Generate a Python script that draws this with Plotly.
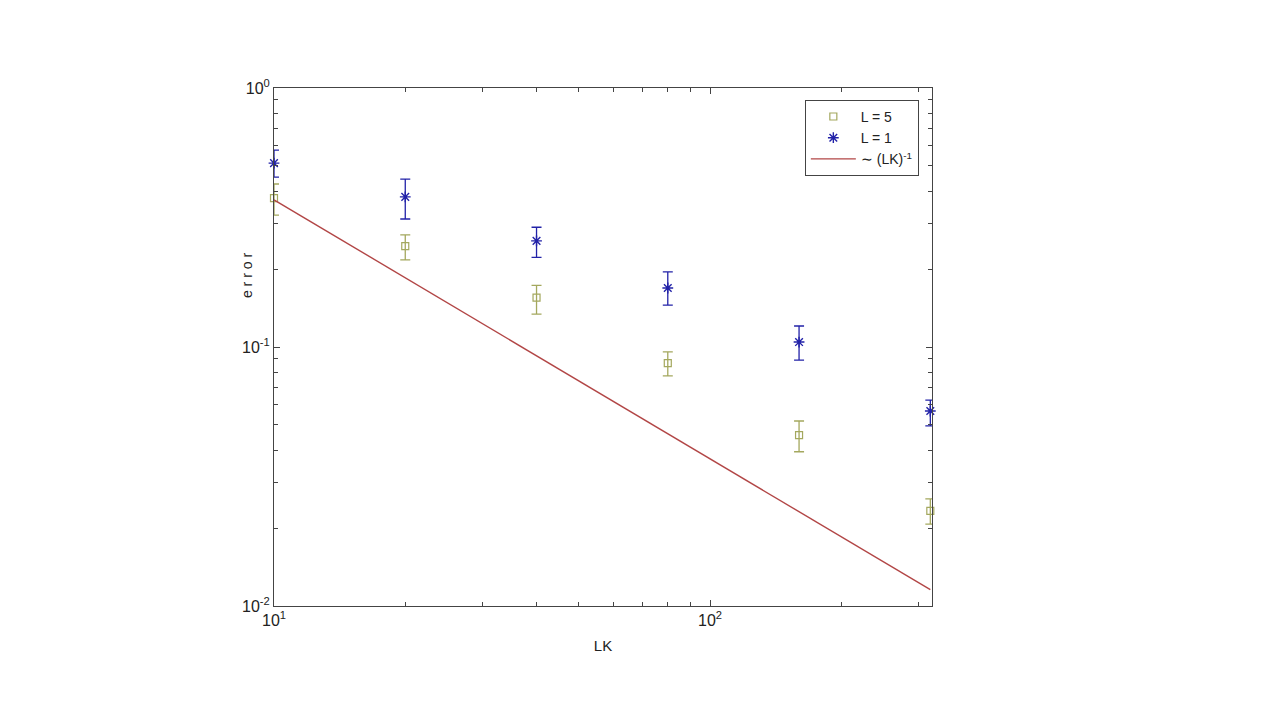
import plotly.graph_objects as go

LK = [10, 20, 40, 80, 160, 320]

err_L5 = [0.376, 0.245, 0.155, 0.0867, 0.0457, 0.0233]
err_L5_hi = [0.426, 0.271, 0.173, 0.0957, 0.0518, 0.0259]
err_L5_lo = [0.323, 0.217, 0.134, 0.0773, 0.0394, 0.0207]

err_L1 = [0.513, 0.38, 0.257, 0.169, 0.1045, 0.0566]
err_L1_hi = [0.576, 0.445, 0.29, 0.195, 0.1205, 0.0624]
err_L1_lo = [0.453, 0.312, 0.222, 0.145, 0.089, 0.0496]

ref_coef = 3.7
ref_x = [10, 320]
ref_y = [ref_coef / x for x in ref_x]

x_minor = [20, 30, 40, 50, 60, 70, 80, 90, 200, 300]
y_minor = [0.02, 0.03, 0.04, 0.05, 0.06, 0.07, 0.08, 0.09,
           0.2, 0.3, 0.4, 0.5, 0.6, 0.7, 0.8, 0.9]

green = "#a4a85e"
blue = "#2222a8"
red = "#b24646"

fig = go.Figure()
fig.add_trace(go.Scatter(
    x=LK, y=err_L5, mode="markers", name="L = 5", cliponaxis=False,
    marker=dict(symbol="square-open", size=7, color=green, line=dict(width=1.2)),
    error_y=dict(type="data", symmetric=False,
                 array=[h - v for h, v in zip(err_L5_hi, err_L5)],
                 arrayminus=[v - l for v, l in zip(err_L5, err_L5_lo)],
                 color=green, thickness=1.3, width=5),
))
fig.add_trace(go.Scatter(
    x=LK, y=err_L1, mode="markers", name="L = 1", cliponaxis=False,
    marker=dict(symbol="asterisk-open", size=9, color=blue, line=dict(width=1.4, color=blue)),
    error_y=dict(type="data", symmetric=False,
                 array=[h - v for h, v in zip(err_L1_hi, err_L1)],
                 arrayminus=[v - l for v, l in zip(err_L1, err_L1_lo)],
                 color=blue, thickness=1.3, width=5),
))
fig.add_trace(go.Scatter(
    x=ref_x, y=ref_y, mode="lines", name="∼ (LK)<sup>-1</sup>",
    line=dict(color=red, width=1.4),
))

axis_common = dict(
    type="log", showgrid=False, zeroline=False,
    showline=True, linecolor="#444444", linewidth=1, mirror="allticks",
    ticks="inside", ticklen=6, tickcolor="#444444",
    tickfont=dict(family="Liberation Sans, Arial", size=16, color="#222222"),
)

fig.update_xaxes(
    **axis_common,
    range=[1, 2.509],
    tickvals=[10, 100],
    ticktext=["10<sup>1</sup>", "10<sup>2</sup>"],
    minor=dict(tickmode="array", tickvals=x_minor, ticks="inside", ticklen=4,
               tickcolor="#444444", showgrid=False),
    title=dict(text="LK", font=dict(family="Liberation Sans, Arial", size=15, color="#222222"), standoff=12),
)
fig.update_yaxes(
    **axis_common,
    range=[-2, 0],
    tickvals=[0.01, 0.1, 1],
    ticktext=["10<sup>-2</sup>", "10<sup>-1</sup>", "10<sup>0</sup>"],
    minor=dict(tickmode="array", tickvals=y_minor, ticks="inside", ticklen=4,
               tickcolor="#444444", showgrid=False),
)

fig.add_annotation(
    text="e r r o r", textangle=-90, showarrow=False,
    xref="paper", yref="paper", x=-0.041, y=0.637,
    xanchor="center", yanchor="middle",
    font=dict(family="Liberation Sans, Arial", size=14, color="#222222"),
)

fig.update_layout(
    width=1280, height=720,
    margin=dict(l=266, r=356, t=80, b=122),
    paper_bgcolor="white", plot_bgcolor="white",
    font=dict(family="Liberation Sans, Arial", size=13, color="#222222"),
    legend=dict(x=0.980, y=0.977, xanchor="right", yanchor="top",
                bgcolor="white", bordercolor="#444444", borderwidth=1,
                font=dict(size=14), tracegroupgap=0, itemwidth=45),
    showlegend=True,
)

fig.write_html("out.html")
